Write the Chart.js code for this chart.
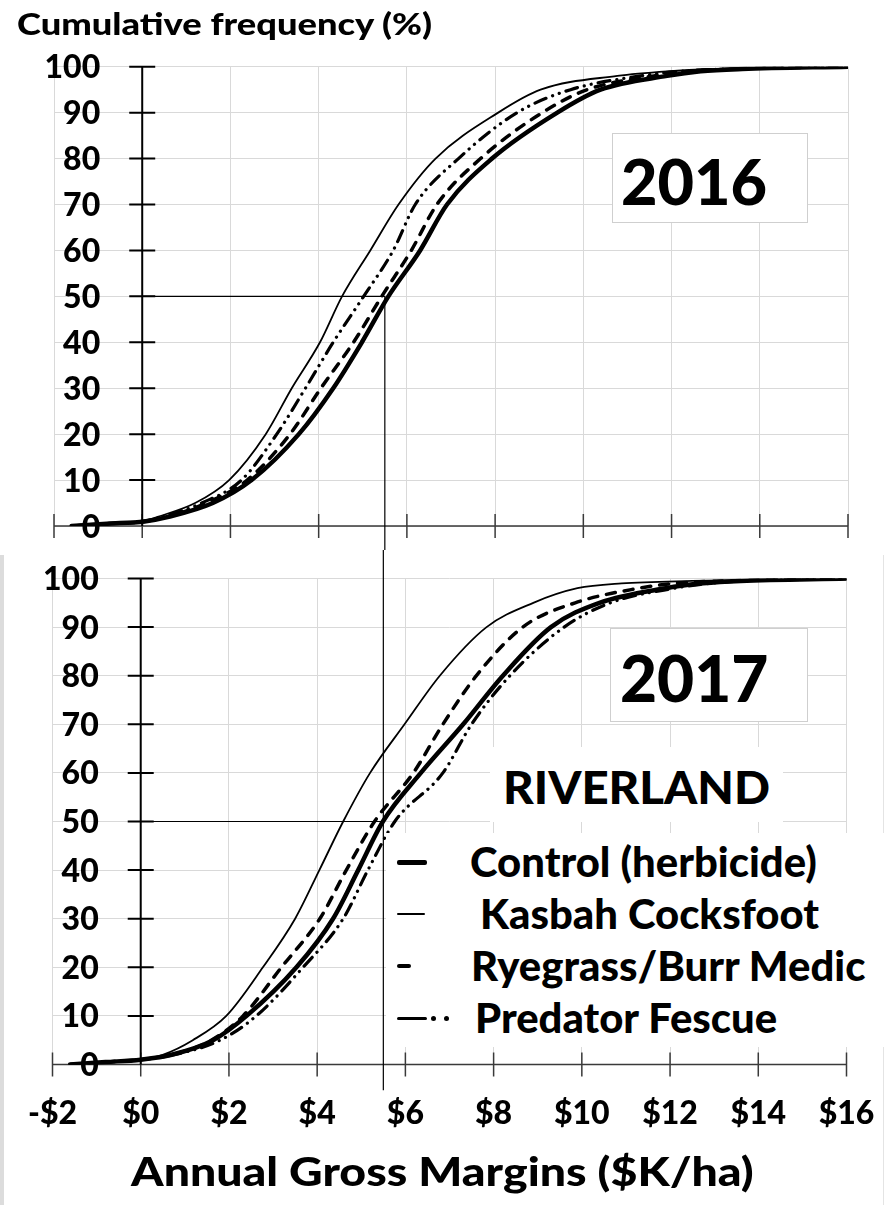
<!DOCTYPE html>
<html>
<head>
<meta charset="utf-8">
<script src="https://cdn.jsdelivr.net/npm/chart.js@4.4.1/dist/chart.umd.min.js"></script>
<style>
  body { margin: 0; background: #fff; font-family: Lato, sans-serif; }
  #page { position: relative; width: 885px; height: 1205px; overflow: hidden; background: #fff; }
  canvas { position: absolute; left: 0; }
  .txt { position: absolute; font-weight: 900; white-space: nowrap; color: #000; line-height: 1; }
  .box { position: absolute; background: #fff; }
  .frame-l { position: absolute; left: 0; top: 555px; width: 4px; height: 650px; background: #dcdcdc; }
  .frame-r { position: absolute; left: 883px; top: 555px; width: 1px; height: 650px; background: #e4e4e4; }
</style>
</head>
<body>
<div id="page">
  <canvas id="chart2016" width="885" height="550" style="top:0"></canvas>
  <canvas id="chart2017" width="885" height="655" style="top:550px"></canvas>

  <div class="frame-l"></div>
  <div class="frame-r"></div>

  <div class="txt" style="left:17px; top:8px; font-size:31px; transform:scaleX(1.17); transform-origin:left center;">Cumulative frequency (%)</div>

  <div class="box" style="left:612px; top:133px; width:194px; height:88px; border:1px solid #cfcfcf;"></div>
  <div class="txt" style="left:621px; top:149px; font-size:63px;">2016</div>

  <div class="box" style="left:610px; top:628px; width:196px; height:92px; border:1px solid #cfcfcf;"></div>
  <div class="txt" style="left:620px; top:646px; font-size:64px;">2017</div>

  <div class="box" style="left:490px; top:747px; width:293px; height:75px;"></div>
  <div class="txt" style="left:503px; top:764px; font-size:46px; transform:scaleX(1.03); transform-origin:left center;">RIVERLAND</div>

  <div class="box" style="left:386px; top:833px; width:499px; height:214px;"></div>

  <div class="txt" style="left:0; width:885px; text-align:center; top:1152px; font-size:39px; transform:scaleX(1.19); transform-origin:443px center;">Annual Gross Margins ($K/ha)</div>
</div>

<script>
// cumulative frequency levels (%) and gross margins ($K/ha) reached at each level
const pctLevels = [0, 0.5, 1, 2, 5, 10, 20, 30, 40, 50, 60, 70, 80, 90, 95, 98, 99, 99.5, 100];

const control2016  = [-1.6, -0.8, 0.05, 0.6, 1.6, 2.48, 3.55, 4.33, 4.98, 5.58, 6.3, 6.91, 7.93, 9.41, 10.39, 11.9, 12.66, 13.6, 16];
const kasbah2016   = [-1.6, -0.8, 0.0, 0.35, 1.2, 1.97, 2.8, 3.39, 4.03, 4.53, 5.17, 5.81, 6.65, 8.07, 9.03, 10.77, 11.9, 13.0, 16];
const ryegrass2016 = [-1.6, -0.8, 0.05, 0.55, 1.45, 2.38, 3.35, 4.05, 4.79, 5.43, 6.1, 6.68, 7.67, 9.07, 10.09, 11.6, 12.4, 13.4, 16];
const predator2016 = [-1.6, -0.8, 0.0, 0.45, 1.35, 2.25, 3.05, 3.7, 4.33, 5.02, 5.69, 6.19, 7.17, 8.5, 9.71, 11.3, 12.2, 13.3, 16];

const control2017  = [-1.6, -0.8, 0.0, 0.7, 1.64, 2.4, 3.53, 4.36, 4.93, 5.49, 6.35, 7.31, 8.21, 9.3, 10.4, 11.9, 12.75, 13.6, 16];
const kasbah2017   = [-1.6, -0.8, 0.0, 0.5, 1.18, 1.94, 2.77, 3.5, 4.05, 4.59, 5.2, 5.98, 6.78, 7.84, 8.9, 9.9, 10.9, 12.5, 16];
const ryegrass2017 = [-1.6, -0.8, 0.0, 0.7, 1.6, 2.32, 3.19, 4.06, 4.66, 5.3, 6.18, 6.85, 7.61, 8.66, 9.85, 11.3, 12.1, 13.2, 16];
const predator2017 = [-1.6, -0.8, 0.0, 0.75, 1.8, 2.62, 3.68, 4.59, 5.15, 5.76, 6.85, 7.5, 8.37, 9.6, 10.65, 12.1, 12.9, 13.7, 16];

const seriesNames = ['Control (herbicide)', 'Kasbah Cocksfoot', 'Ryegrass/Burr Medic', 'Predator Fescue'];

const xTicks = [-2, 0, 2, 4, 6, 8, 10, 12, 14, 16];
const xTickLabels = ['-$2', '$0', '$2', '$4', '$6', '$8', '$10', '$12', '$14', '$16'];
const yTicks = [0, 10, 20, 30, 40, 50, 60, 70, 80, 90, 100];

// median guide line
const refMargin = 5.5;
const refPct = 50;

const lineStyles = [
    { borderWidth: 4.5, borderDash: [] },
    { borderWidth: 1.8, borderDash: [] },
    { borderWidth: 3.5, borderDash: [9, 9] },
    { borderWidth: 3.2, borderDash: [12, 7, 0.1, 7, 0.1, 7] }
];

// Excel style axes: crossing at zero with ticks on both sides
const crossAxes = {
    id: 'crossAxes',
    beforeDatasetsDraw(chart, args, opts) {
        const { ctx } = chart;
        const x = chart.scales.x, y = chart.scales.y;
        const x0 = x.getPixelForValue(0), y0 = y.getPixelForValue(0);
        ctx.save();
        ctx.strokeStyle = '#3a3a3a';
        ctx.lineWidth = 1.5;
        ctx.beginPath();
        ctx.moveTo(x.getPixelForValue(xTicks[0]), y0);
        ctx.lineTo(x.getPixelForValue(xTicks[xTicks.length - 1]), y0);
        xTicks.forEach(v => {
            const px = x.getPixelForValue(v);
            ctx.moveTo(px, y0 - 12);
            ctx.lineTo(px, y0 + 12);
        });
        ctx.stroke();

        ctx.strokeStyle = '#000';
        ctx.lineWidth = 2;
        ctx.beginPath();
        ctx.moveTo(x0, y.getPixelForValue(0));
        ctx.lineTo(x0, y.getPixelForValue(100));
        yTicks.slice(1).forEach(v => {
            const py = y.getPixelForValue(v);
            ctx.moveTo(x0 - 13, py);
            ctx.lineTo(x0 + 13, py);
        });
        ctx.stroke();

        ctx.fillStyle = '#000';
        ctx.font = '900 32px Lato';
        ctx.textAlign = 'right';
        yTicks.forEach(v => {
            ctx.fillText(String(v), x0 - 42, y.getPixelForValue(v) + 11.5);
        });
        if (opts.xLabels) {
            ctx.textAlign = 'center';
            xTicks.forEach((v, i) => {
                ctx.fillText(xTickLabels[i], x.getPixelForValue(v), y0 + 59);
            });
        }
        ctx.restore();
    }
};

function toPoints(values) {
    return values.map((v, i) => ({ x: v, y: pctLevels[i] }));
}

function makeChart(id, series, refLines, padding, xLabels) {
    const datasets = series.map((vals, i) => ({
        label: seriesNames[i],
        data: toPoints(vals),
        borderColor: '#000',
        borderWidth: lineStyles[i].borderWidth,
        borderDash: lineStyles[i].borderDash,
        borderCapStyle: 'round',
        cubicInterpolationMode: 'monotone',
        pointRadius: 0,
        fill: false
    }));
    refLines.forEach(pts => datasets.push({
        label: 'guide',
        data: pts,
        borderColor: '#000',
        borderWidth: 1.2,
        pointRadius: 0,
        tension: 0,
        clip: false,
        fill: false
    }));

    const grid = { color: '#d9d9d9', lineWidth: 1, drawTicks: false };
    return new Chart(document.getElementById(id), {
        type: 'line',
        data: { datasets },
        plugins: [crossAxes],
        options: {
            responsive: false,
            animation: false,
            layout: { padding },
            plugins: {
                legend: { display: false },
                tooltip: { enabled: false },
                crossAxes: { xLabels }
            },
            scales: {
                x: {
                    type: 'linear', min: -2, max: 16,
                    ticks: { display: false, stepSize: 2 },
                    grid, border: { display: false }
                },
                y: {
                    type: 'linear', min: 0, max: 100,
                    ticks: { display: false, stepSize: 10 },
                    grid, border: { display: false }
                }
            }
        }
    });
}

makeChart('chart2016',
    [control2016, kasbah2016, ryegrass2016, predator2016],
    [[{ x: 0, y: refPct }, { x: refMargin, y: refPct }, { x: refMargin, y: -6 }]],
    { left: 54, right: 37, top: 66.7, bottom: 24 },
    false);

makeChart('chart2017',
    [control2017, kasbah2017, ryegrass2017, predator2017],
    [[{ x: 0, y: refPct }, { x: refMargin, y: refPct }],
     [{ x: refMargin, y: 107 }, { x: refMargin, y: -5.3 }]],
    { left: 52.5, right: 38.5, top: 28.5, bottom: 140.5 },
    true);

// legend with line samples
const page = document.getElementById('page');
const rowY = [862, 914, 966, 1018];
const textLeft = [470, 480, 471, 475];
const samples = [
    [{ l: 397, w: 30, h: 5 }],
    [{ l: 397, w: 28, h: 1.6 }],
    [{ l: 397, w: 14, h: 4 }],
    [{ l: 397, w: 30, h: 3 }, { l: 431, w: 5, h: 5, r: true }, { l: 444, w: 5, h: 5, r: true }]
];
seriesNames.forEach((name, i) => {
    samples[i].forEach(s => {
        const d = document.createElement('div');
        d.style.cssText = `position:absolute;background:#000;left:${s.l}px;top:${rowY[i] - s.h / 2}px;width:${s.w}px;height:${s.h}px;border-radius:${s.r ? '50%' : '2px'}`;
        page.appendChild(d);
    });
    const t = document.createElement('div');
    t.className = 'txt';
    t.textContent = name;
    t.style.cssText = `left:${textLeft[i]}px;top:${rowY[i] - 21.5}px;font-size:41px;transform:scaleX(1.02);transform-origin:left center;`;
    page.appendChild(t);
});
</script>
</body>
</html>
